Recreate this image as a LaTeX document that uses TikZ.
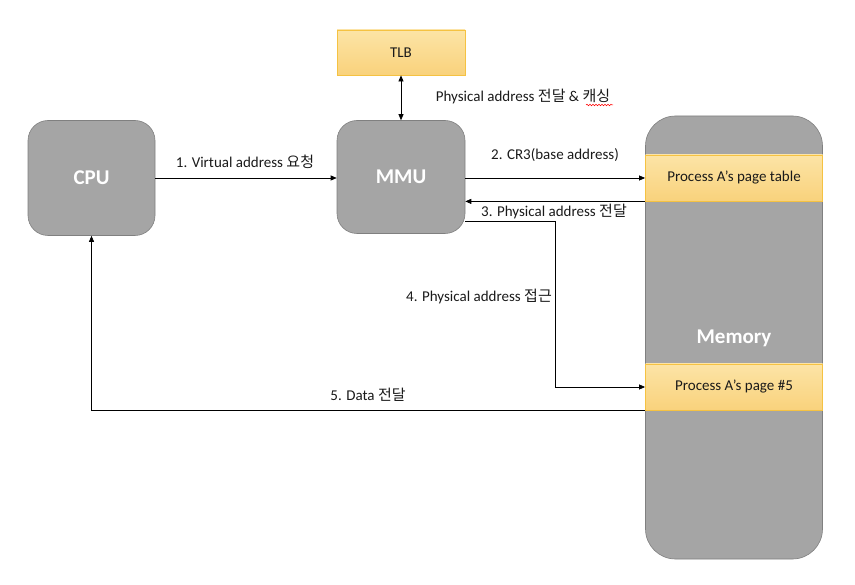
\documentclass[tikz,border=0pt]{standalone}
\usepackage{fontspec}
\setmainfont{Carlito}
\newfontfamily\kr{Noto Sans CJK KR}
\usetikzlibrary{arrows.meta,decorations.pathmorphing,calc}
\definecolor{boxgray}{HTML}{A5A5A5}
\definecolor{boxedge}{HTML}{808080}
\definecolor{ytop}{HTML}{FCE4A6}
\definecolor{ybot}{HTML}{F9D27C}
\definecolor{yedge}{HTML}{F5C242}
\definecolor{txt}{HTML}{1A1A1A}
\begin{document}
\begin{tikzpicture}[x=1pt,y=-1pt,
  graybox/.style={draw=boxedge,fill=boxgray,line width=0.6pt,rounded corners=20pt,
    text=white,font=\fontsize{21}{25}\selectfont\bfseries,inner sep=0pt},
  ybox/.style={draw=yedge,top color=ytop,bottom color=ybot,line width=0.8pt,
    text=txt,font=\fontsize{15}{18}\selectfont,inner sep=0pt},
  lbl/.style={text=txt,font=\fontsize{15}{18}\selectfont,inner sep=0pt},
  conn/.style={line width=0.7pt,-{Triangle[length=6pt,width=5pt]}},
  dconn/.style={line width=0.7pt,{Triangle[length=6pt,width=5pt]}-{Triangle[length=6pt,width=5pt]}}]
\useasboundingbox (0,0) rectangle (855,585);
% nodes
\node[graybox,minimum width=127pt,minimum height=115pt] (CPU) at (91.5,178) {CPU};
\node[graybox,minimum width=128pt,minimum height=113pt] (MMU) at (401,177) {MMU};
\node[ybox,minimum width=128pt,minimum height=45pt] (TLB) at (401,52.5) {TLB};
\node[graybox,rounded corners=30pt,minimum width=177pt,minimum height=443pt] (MEM) at (734,337.5) {};
\node[text=white,font=\fontsize{21}{25}\selectfont\bfseries,inner sep=0pt] (MEMT) at (734,338) {Memory};
\node[ybox,minimum width=177pt,minimum height=46pt] (PT) at (734,178) {Process A’s page table};
\node[ybox,minimum width=177pt,minimum height=46pt] (P5) at (734,387) {Process A’s page \#5};
% connectors
\draw[conn] (CPU.east) -- (MMU.west |- CPU.east);
\draw[dconn] (TLB.south) -- (MMU.north);
\draw[conn] (MMU.east |- PT.west) -- (PT.west);
\draw[conn] (PT.south west) -- (MMU.east |- PT.south west);
\coordinate (C4) at (555,221);
\draw[conn] (MMU.east |- C4) -- (C4) |- (P5.west);
\draw[conn] (P5.south west) -| (CPU.south);
% labels
\node[lbl] (L1) at (245,162) {1. Virtual address {\kr 요청}};
\node[lbl] (L0) at (523,97) {Physical address {\kr 전달} \& {\kr 캐싱}};
\node[lbl] (L2) at (555,155) {2. CR3(base address)};
\node[lbl] (L3) at (554,212) {3. Physical address {\kr 전달}};
\node[lbl,anchor=east] (L4) at (552,297) {4. Physical address {\kr 접근}};
\node[lbl] (L5) at (368,395) {5. Data {\kr 전달}};
\draw[red,line width=0.5pt,decorate,decoration={snake,amplitude=0.8pt,segment length=3pt}] (586,105) -- (613,105);
\end{tikzpicture}
\end{document}
